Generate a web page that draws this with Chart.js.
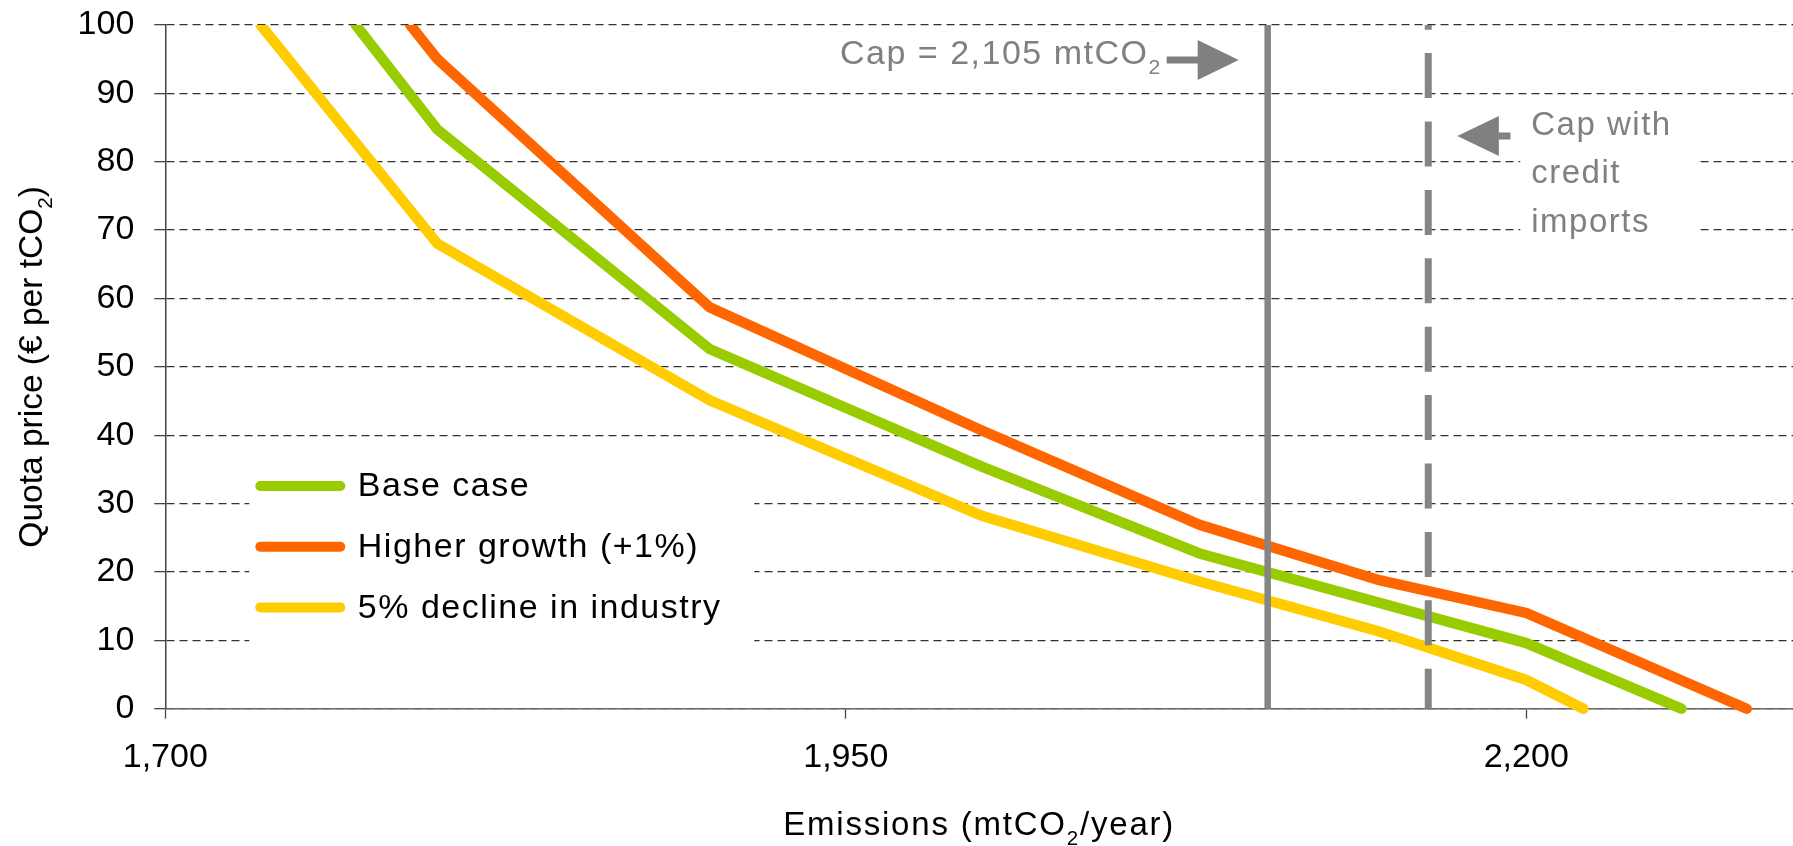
<!DOCTYPE html>
<html>
<head>
<meta charset="utf-8">
<script src="https://cdn.jsdelivr.net/npm/chart.js@4.4.0/dist/chart.umd.min.js"></script>
<style>
  html, body { margin: 0; padding: 0; background: #fff; }
  canvas { display: block; }
</style>
</head>
<body>
<canvas id="quotaChart" width="1793" height="846"></canvas>
<script>
// Data (emissions in mtCO2/year, price in EUR per tCO2)
const baseX = [1770, 1800, 1900, 2000, 2080, 2200, 2257];
const baseY = [100, 84.7, 52.6, 35.4, 22.7, 9.6, 0];

const higherX = [1790, 1800, 1900, 2000, 2080, 2146, 2200, 2281];
const higherY = [100, 95, 58.7, 40.7, 26.9, 18.8, 14.0, 0];

const declineX = [1735, 1800, 1900, 2000, 2080, 2146, 2200, 2221];
const declineY = [100, 68, 45.1, 28.2, 18.6, 11.3, 4.2, 0];

const seriesLabels = ['Base case', 'Higher growth (+1%)', '5% decline in industry'];
const seriesColors = ['#99CC00', '#FF6600', '#FFCC00'];

const xTicks = [1700, 1950, 2200];
const yMin = 0, yMax = 100, yStep = 10;

const capValue = 2105;        // solid cap line
const capCreditValue = 2164;  // cap with credit imports (dashed)

const FONT = '"Liberation Sans", Arial, Helvetica, sans-serif';
const GREY = '#858585';

function toPoints(xs, ys) {
    return xs.map((x, i) => ({ x: x, y: ys[i] }));
}

// draw text made of normal + subscript parts
function richText(ctx, parts, x, y, size, align) {
    const widths = parts.map(p => {
        ctx.font = (p.sub ? size * 0.62 : size) + 'px ' + FONT;
        return ctx.measureText(p.t).width;
    });
    const total = widths.reduce((s, w) => s + w, 0);
    let cx = align === 'right' ? x - total : (align === 'center' ? x - total / 2 : x);
    ctx.textAlign = 'left';
    ctx.textBaseline = 'alphabetic';
    parts.forEach((p, i) => {
        ctx.font = (p.sub ? size * 0.62 : size) + 'px ' + FONT;
        ctx.fillText(p.t, cx, y + (p.sub ? size * 0.3 : 0));
        cx += widths[i];
    });
}

function arrow(ctx, tipX, tipY, dir, headLen, headHalf, shaftLen, shaftW) {
    const baseX = tipX - dir * headLen;
    ctx.beginPath();
    ctx.moveTo(tipX, tipY);
    ctx.lineTo(baseX, tipY - headHalf);
    ctx.lineTo(baseX, tipY + headHalf);
    ctx.closePath();
    ctx.fill();
    const end = baseX - dir * shaftLen;
    ctx.fillRect(Math.min(baseX, end), tipY - shaftW / 2, Math.abs(shaftLen) + 1, shaftW);
}

const overlayPlugin = {
    id: 'overlay',
    beforeDatasetsDraw(chart) {
        const { ctx, chartArea: a, scales: { x } } = chart;
        ctx.save();
        ctx.fillStyle = '#fff';
        // legend background hides the grid lines
        ctx.fillRect(a.left + 84, a.top + 420, 505, 222);
        // background behind the "cap with credit imports" note
        ctx.fillRect(x.getPixelForValue(capCreditValue) + 92, a.top + 80, 180, 145);
        ctx.restore();
    },
    afterDatasetsDraw(chart) {
        const { ctx, chartArea: a, scales: { x } } = chart;
        ctx.save();
        ctx.letterSpacing = '1.5px';

        // legend
        const series = chart.data.datasets.filter(d => !d.isCap);
        series.forEach((d, i) => {
            const ly = a.top + 461 + i * 60.7;
            const lx = a.left + 95;
            ctx.strokeStyle = d.borderColor;
            ctx.lineWidth = 10;
            ctx.lineCap = 'round';
            ctx.beginPath();
            ctx.moveTo(lx, ly);
            ctx.lineTo(lx + 80, ly);
            ctx.stroke();
            ctx.fillStyle = '#000';
            ctx.font = '34px ' + FONT;
            ctx.textAlign = 'left';
            ctx.textBaseline = 'middle';
            ctx.fillText(d.label, lx + 97.5, ly + 1);
        });

        // cap annotations
        const capPx = x.getPixelForValue(capValue);
        const creditPx = x.getPixelForValue(capCreditValue);
        ctx.fillStyle = '#808080';
        arrow(ctx, capPx - 29, a.top + 35, 1, 41, 20, 31, 7);
        richText(ctx, [{ t: 'Cap = 2,105 mtCO' }, { t: '2', sub: true }], capPx - 106, a.top + 38.5, 34, 'right');

        arrow(ctx, creditPx + 29, a.top + 111, -1, 41.6, 20, 10.6, 7);
        ctx.font = '33px ' + FONT;
        ctx.textAlign = 'left';
        ctx.textBaseline = 'alphabetic';
        ['Cap with', 'credit', 'imports'].forEach((t, i) => {
            ctx.fillText(t, creditPx + 103, a.top + 110 + i * 48.3);
        });
        ctx.restore();
    },
    afterDraw(chart) {
        const { ctx, chartArea: a } = chart;
        ctx.save();
        ctx.fillStyle = '#000';
        // x axis title
        ctx.letterSpacing = '1.8px';
        richText(ctx, [{ t: 'Emissions (mtCO' }, { t: '2', sub: true }, { t: '/year)' }],
            (a.left + a.right) / 2, 835, 33, 'center');
        // y axis title, rotated
        ctx.letterSpacing = '0px';
        ctx.translate(41.5, (a.top + a.bottom) / 2);
        ctx.rotate(-Math.PI / 2);
        richText(ctx, [{ t: 'Quota price (€ per tCO' }, { t: '2', sub: true }, { t: ')' }], 0, 0, 33.5, 'center');
        ctx.restore();
    }
};

function createChart() {
    const ctx = document.getElementById('quotaChart').getContext('2d');
    const seriesXs = [baseX, higherX, declineX];
    const seriesYs = [baseY, higherY, declineY];

    const datasets = seriesLabels.map((label, i) => ({
        label: label,
        data: toPoints(seriesXs[i], seriesYs[i]),
        borderColor: seriesColors[i],
        backgroundColor: seriesColors[i],
        borderWidth: 10.5,
        borderJoinStyle: 'miter',
        borderCapStyle: 'round',
        pointRadius: 0,
        tension: 0,
        fill: false,
        clip: { left: 0, top: 0, right: 0, bottom: 6 }
    }));

    datasets.push({
        label: 'Cap',
        isCap: true,
        data: [{ x: capValue, y: yMin }, { x: capValue, y: yMax }],
        borderColor: GREY,
        borderWidth: 6.5,
        borderCapStyle: 'butt',
        pointRadius: 0,
        order: -1
    });
    datasets.push({
        label: 'Cap with credit imports',
        isCap: true,
        data: [{ x: capCreditValue, y: yMin }, { x: capCreditValue, y: yMax }],
        borderColor: GREY,
        borderWidth: 7,
        borderDash: [45, 23.4],
        borderDashOffset: 5,
        borderCapStyle: 'butt',
        pointRadius: 0,
        order: -1
    });

    return new Chart(ctx, {
        type: 'line',
        data: { datasets: datasets },
        options: {
            responsive: false,
            animation: false,
            devicePixelRatio: 1,
            layout: { padding: { top: 25, left: 0, right: 0, bottom: 0 } },
            plugins: {
                legend: { display: false },
                tooltip: { enabled: false }
            },
            scales: {
                x: {
                    type: 'linear',
                    min: 1700,
                    max: 2298,
                    afterBuildTicks: scale => { scale.ticks = xTicks.map(v => ({ value: v })); },
                    afterFit: scale => {
                        scale.height = 137.3;
                        scale.paddingLeft = 0;
                        scale.paddingRight = 0;
                    },
                    grid: {
                        drawOnChartArea: false,
                        drawTicks: true,
                        tickLength: 10,
                        tickColor: '#444',
                        tickWidth: 1.3
                    },
                    border: { display: true, color: '#666', width: 1.6 },
                    ticks: {
                        padding: 19,
                        maxRotation: 0,
                        color: '#000',
                        font: { family: FONT, size: 34 },
                        callback: v => v.toLocaleString('en-US')
                    }
                },
                y: {
                    min: yMin,
                    max: yMax,
                    afterFit: scale => {
                        scale.width = 165.3;
                        scale.paddingTop = 0;
                        scale.paddingBottom = 0;
                    },
                    grid: {
                        color: '#333',
                        lineWidth: 1.3,
                        tickLength: 11,
                        tickColor: '#444',
                        tickWidth: 1.3,
                        tickBorderDash: []
                    },
                    border: { display: true, color: '#444', width: 1.5, dash: [8, 5] },
                    ticks: {
                        stepSize: yStep,
                        padding: 20,
                        color: '#000',
                        font: { family: FONT, size: 34 }
                    }
                }
            }
        },
        plugins: [overlayPlugin]
    });
}

createChart();
</script>
</body>
</html>
